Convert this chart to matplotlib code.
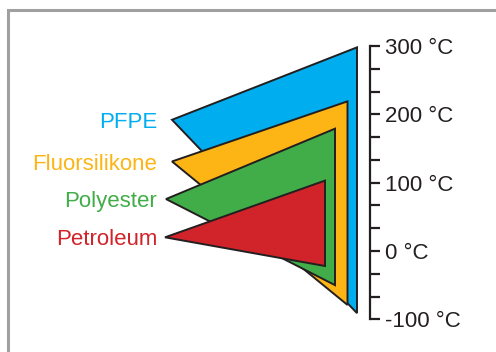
import matplotlib
matplotlib.use("Agg")
import matplotlib.pyplot as plt
from matplotlib.patches import Polygon, Rectangle
from matplotlib.ticker import FixedLocator, FixedFormatter

plt.rcParams['font.family'] = ['Liberation Sans', 'DejaVu Sans']

# data
names = ["PFPE", "Fluorsilikone", "Polyester", "Petroleum"]
t_max = [298, 219, 179, 103]
t_min = [-91, -79, -50, -22]
tip_temp = [192, 131, 76, 20]
tip_x = [172, 172, 166, 165]
right_x = [357, 347.5, 335, 325]
fill_colors = ["#00AEEF", "#FDB515", "#41AD49", "#D1232A"]
major_ticks = [-100, 0, 100, 200, 300]
major_labels = ["-100 °C", "0 °C", "100 °C", "200 °C", "300 °C"]
minor_ticks = [-66.67, -33.33, 33.33, 66.67, 133.33, 166.67, 233.33, 266.67]

W, H = 496, 352
fig = plt.figure(figsize=(W / 100, H / 100), dpi=100)

# outer frame (cropped box)
fig.add_artist(Rectangle((7.5 / W, -0.2), 1.5, (H - 10) / H + 0.2,
                         transform=fig.transFigure, fill=False,
                         ec="#a0a0a0", lw=2.2))

y_bot = (H - 319.3) / H
y_top = (H - 46) / H
ax = fig.add_axes([0, y_bot, 370 / W, y_top - y_bot])
ax.set_xlim(0, 370)
ax.set_ylim(-100, 300)
ax.patch.set_visible(False)

for i in range(len(names)):
    poly = Polygon([(tip_x[i], tip_temp[i]), (right_x[i], t_max[i]),
                    (right_x[i], t_min[i])], closed=True,
                   fc=fill_colors[i], ec="#231F20", lw=1.4,
                   joinstyle="miter", zorder=2 + i, clip_on=False)
    ax.add_patch(poly)
    ax.annotate(names[i], xy=(157, tip_temp[i]), xytext=(0, -5.8),
                textcoords="offset points", ha="right", va="baseline",
                color=fill_colors[i], fontsize=16, annotation_clip=False)

for s in ["left", "top", "bottom"]:
    ax.spines[s].set_visible(False)
ax.spines["right"].set_linewidth(1.6)
ax.spines["right"].set_color("#231F20")
ax.spines["right"].set_capstyle("projecting")
ax.set_xticks([])
ax.yaxis.tick_right()
ax.yaxis.set_major_locator(FixedLocator(major_ticks))
ax.yaxis.set_major_formatter(FixedFormatter(major_labels))
ax.yaxis.set_minor_locator(FixedLocator(minor_ticks))
ax.tick_params(axis="y", which="both", direction="out", length=7.5,
               width=1.6, color="#231F20")
ax.tick_params(axis="y", which="major", labelsize=16, labelcolor="#231F20",
               pad=3.5)

fig.savefig("out.png", dpi=100)
